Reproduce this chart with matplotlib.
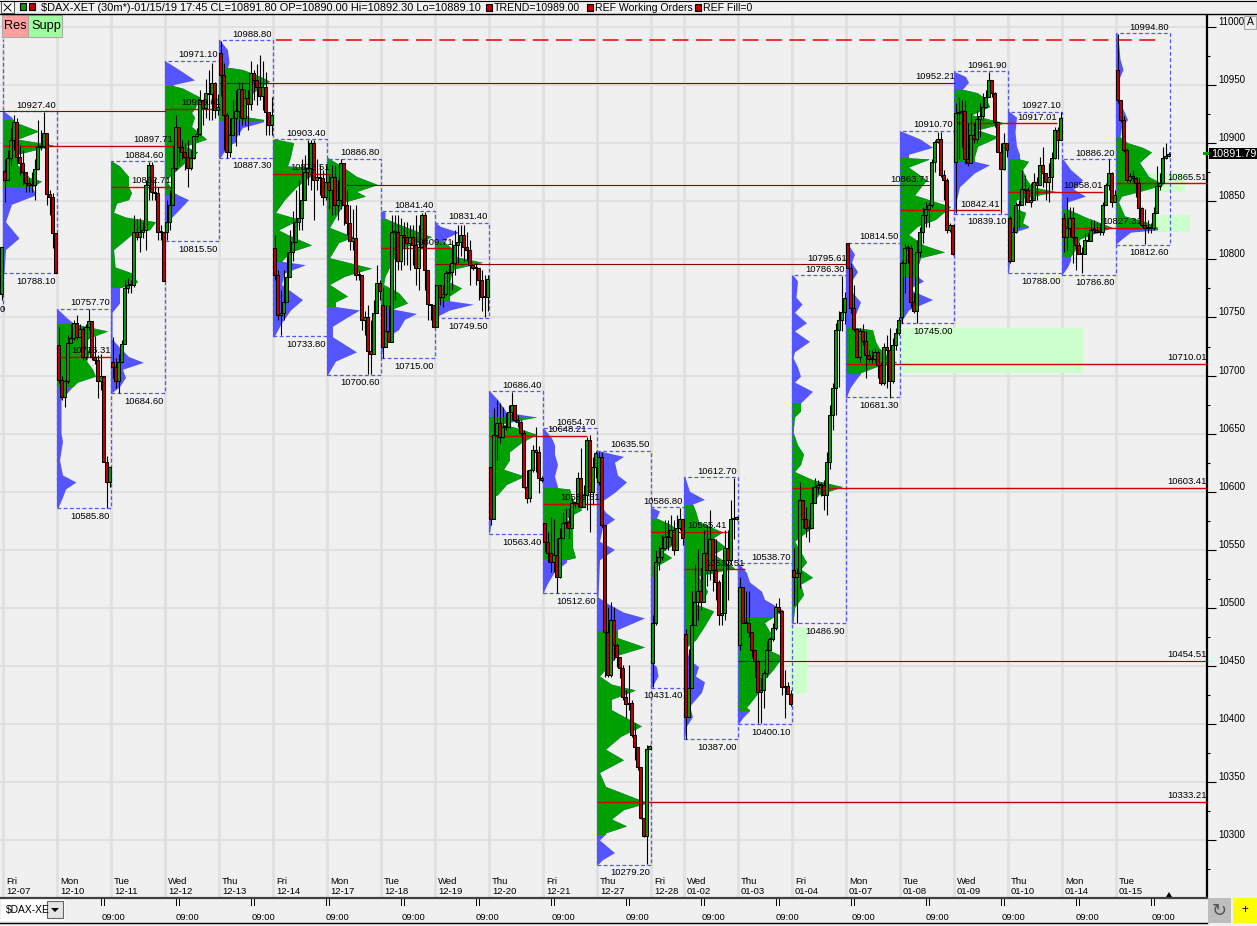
import numpy as np
import matplotlib
matplotlib.use("Agg")
import matplotlib.pyplot as plt
from matplotlib.patches import Rectangle, Polygon

plt.rcParams["font.family"] = ["Liberation Sans", "DejaVu Sans"]

GREEN = "#00a000"
RED = "#c00000"
BLUE = "#5555ff"
BG = "#f0f0f0"
GRID = "#e0e0e0"
LIGHT = "#ccffcc"

day_names = ["Fri", "Mon", "Tue", "Wed", "Thu", "Fri", "Mon", "Tue", "Wed", "Thu", "Fri",
             "Thu", "Fri", "Wed", "Thu", "Fri", "Mon", "Tue", "Wed", "Thu", "Mon", "Tue"]
day_dates = ["12-07", "12-10", "12-11", "12-12", "12-13", "12-14", "12-17", "12-18", "12-19", "12-20", "12-21",
             "12-27", "12-28", "01-02", "01-03", "01-04", "01-07", "01-08", "01-09", "01-10", "01-14", "01-15"]
# 30 minute bars per session, 12-28 was a short one
day_bars = [18] * 12 + [11] + [18] * 9

day_high = [10927.40, 10757.70, 10884.60, 10971.10, 10988.80, 10903.40, 10886.80, 10841.40, 10831.40, 10686.40, 10654.70,
            10635.50, 10586.80, 10612.70, 10538.70, 10786.30, 10814.50, 10910.70, 10961.90, 10927.10, 10886.20, 10994.80]
day_low = [10788.10, 10585.80, 10684.60, 10815.50, 10887.30, 10733.80, 10700.60, 10715.00, 10749.50, 10563.40, 10512.60,
           10279.20, 10431.40, 10387.00, 10400.10, 10486.90, 10681.30, 10745.00, 10839.10, 10788.00, 10786.80, 10812.60]

first_open = [10876, 10726, 10712, 10824, 10978, 10810, 10867, 10761, 10742, 10621, 10573,
              10608, 10453, 10478, 10468, 10533, 10814, 10750, 10884, 10836, 10836, 10963]

closes = [
    [10868, 10887, 10903, 10918, 10888, 10883, 10875, 10866, 10864, 10864, 10878, 10897, 10898, 10909, 10856, 10854, 10823, 10788],
    [10696, 10682, 10695, 10728, 10732, 10745, 10733, 10740, 10716, 10742, 10747, 10716, 10713, 10695, 10700, 10626, 10608, 10621],
    [10707, 10695, 10712, 10727, 10775, 10778, 10778, 10824, 10819, 10824, 10825, 10864, 10881, 10858, 10857, 10824, 10824, 10781],
    [10832, 10847, 10879, 10914, 10897, 10892, 10888, 10879, 10887, 10906, 10908, 10937, 10930, 10943, 10942, 10952, 10929, 10931],
    [10959, 10924, 10892, 10907, 10922, 10928, 10947, 10922, 10939, 10934, 10960, 10954, 10948, 10941, 10948, 10927, 10916, 10924],
    [10787, 10752, 10754, 10763, 10785, 10806, 10815, 10832, 10836, 10851, 10875, 10879, 10900, 10868, 10871, 10870, 10854, 10867],
    [10860, 10871, 10847, 10851, 10883, 10847, 10831, 10816, 10818, 10787, 10787, 10748, 10750, 10721, 10719, 10754, 10780, 10773],
    [10725, 10738, 10729, 10824, 10824, 10799, 10821, 10819, 10814, 10819, 10812, 10793, 10811, 10838, 10791, 10762, 10761, 10742],
    [10778, 10768, 10770, 10788, 10789, 10797, 10812, 10815, 10821, 10811, 10808, 10795, 10793, 10793, 10782, 10768, 10768, 10783],
    [10577, 10649, 10659, 10647, 10656, 10656, 10669, 10675, 10662, 10660, 10651, 10604, 10595, 10619, 10636, 10634, 10612, 10610],
    [10557, 10547, 10540, 10546, 10527, 10560, 10573, 10574, 10569, 10590, 10590, 10612, 10587, 10597, 10645, 10600, 10621, 10633],
    [10630, 10571, 10479, 10442, 10490, 10468, 10458, 10448, 10423, 10417, 10418, 10391, 10380, 10363, 10319, 10304, 10379, 10381],
    [10487, 10540, 10544, 10552, 10561, 10561, 10567, 10550, 10569, 10577, 10560],
    [10406, 10431, 10485, 10505, 10515, 10505, 10547, 10533, 10559, 10533, 10522, 10494, 10496, 10552, 10541, 10577, 10577, 10578],
    [10518, 10487, 10487, 10479, 10464, 10454, 10428, 10429, 10444, 10464, 10473, 10483, 10501, 10497, 10432, 10433, 10426, 10417],
    [10527, 10530, 10593, 10577, 10569, 10569, 10590, 10604, 10606, 10606, 10597, 10626, 10666, 10689, 10739, 10748, 10755, 10767],
    [10793, 10758, 10740, 10716, 10738, 10730, 10718, 10714, 10714, 10720, 10709, 10694, 10725, 10722, 10695, 10726, 10737, 10748],
    [10797, 10810, 10810, 10763, 10756, 10806, 10824, 10838, 10843, 10847, 10884, 10901, 10904, 10873, 10868, 10825, 10830, 10805],
    [10926, 10927, 10928, 10886, 10883, 10907, 10904, 10921, 10923, 10931, 10940, 10954, 10943, 10918, 10892, 10878, 10900, 10894],
    [10799, 10824, 10847, 10847, 10861, 10860, 10849, 10851, 10867, 10864, 10881, 10874, 10867, 10871, 10887, 10911, 10903, 10922],
    [10819, 10827, 10836, 10819, 10812, 10805, 10805, 10817, 10816, 10825, 10825, 10824, 10824, 10847, 10864, 10874, 10849, 10855],
    [10937, 10920, 10894, 10868, 10872, 10870, 10866, 10844, 10830, 10827, 10827, 10827, 10840, 10863, 10866, 10887, 10889, 10891],
]
highs = [
    [10886, 10894, 10913, 10924, 10922, 10898, 10894, 10875, 10870, 10875, 10886, 10920, 10911, 10927, 10909, 10860, 10857, 10816],
    [10742, 10700, 10696, 10735, 10744, 10748, 10752, 10744, 10742, 10744, 10757, 10747, 10734, 10718, 10719, 10700, 10631, 10621],
    [10733, 10715, 10719, 10731, 10782, 10784, 10782, 10838, 10835, 10836, 10832, 10868, 10884, 10884, 10870, 10862, 10830, 10824],
    [10851, 10860, 10898, 10924, 10914, 10903, 10900, 10903, 10894, 10906, 10913, 10946, 10933, 10955, 10963, 10969, 10953, 10942],
    [10988, 10969, 10927, 10922, 10937, 10946, 10953, 10953, 10947, 10946, 10971, 10963, 10968, 10976, 10971, 10961, 10927, 10940],
    [10821, 10791, 10774, 10791, 10806, 10825, 10842, 10860, 10868, 10886, 10890, 10903, 10903, 10903, 10886, 10881, 10877, 10881],
    [10873, 10881, 10881, 10868, 10886, 10881, 10860, 10847, 10843, 10847, 10791, 10782, 10756, 10761, 10748, 10765, 10795, 10782],
    [10776, 10761, 10761, 10838, 10838, 10838, 10836, 10832, 10832, 10830, 10830, 10838, 10830, 10840, 10841, 10782, 10761, 10761],
    [10778, 10778, 10778, 10791, 10795, 10817, 10825, 10830, 10830, 10830, 10824, 10817, 10795, 10797, 10791, 10791, 10787, 10787],
    [10621, 10672, 10679, 10676, 10673, 10668, 10675, 10686, 10675, 10666, 10662, 10653, 10619, 10620, 10640, 10656, 10639, 10614],
    [10573, 10565, 10578, 10577, 10560, 10569, 10583, 10586, 10586, 10595, 10591, 10617, 10638, 10606, 10647, 10649, 10630, 10635],
    [10634, 10634, 10570, 10501, 10505, 10501, 10470, 10458, 10451, 10429, 10451, 10421, 10401, 10380, 10363, 10319, 10382, 10382],
    [10494, 10550, 10554, 10563, 10576, 10576, 10580, 10576, 10580, 10586, 10577],
    [10482, 10465, 10515, 10538, 10551, 10534, 10567, 10571, 10584, 10559, 10559, 10524, 10529, 10567, 10567, 10593, 10612, 10579],
    [10527, 10517, 10515, 10515, 10479, 10464, 10455, 10440, 10447, 10472, 10475, 10487, 10504, 10509, 10498, 10447, 10436, 10429],
    [10552, 10534, 10608, 10593, 10587, 10577, 10604, 10612, 10610, 10608, 10610, 10634, 10675, 10694, 10745, 10756, 10786, 10772],
    [10814, 10797, 10778, 10741, 10741, 10744, 10738, 10722, 10722, 10724, 10722, 10712, 10728, 10735, 10741, 10732, 10741, 10750],
    [10799, 10814, 10812, 10812, 10771, 10817, 10828, 10845, 10849, 10849, 10886, 10903, 10910, 10910, 10877, 10870, 10831, 10830],
    [10935, 10940, 10937, 10937, 10917, 10926, 10917, 10929, 10935, 10943, 10946, 10961, 10954, 10944, 10917, 10900, 10909, 10900],
    [10837, 10828, 10849, 10851, 10877, 10873, 10862, 10866, 10874, 10871, 10888, 10897, 10874, 10883, 10892, 10914, 10914, 10927],
    [10840, 10854, 10845, 10845, 10818, 10815, 10811, 10823, 10823, 10834, 10834, 10832, 10831, 10849, 10866, 10886, 10875, 10860],
    [10994, 10937, 10923, 10896, 10874, 10877, 10871, 10871, 10845, 10843, 10834, 10831, 10845, 10880, 10874, 10897, 10900, 10892],
]
lows = [
    [10849, 10873, 10881, 10894, 10883, 10873, 10864, 10858, 10858, 10858, 10851, 10877, 10894, 10896, 10847, 10838, 10810, 10788],
    [10694, 10679, 10673, 10694, 10728, 10731, 10731, 10733, 10713, 10714, 10739, 10713, 10710, 10681, 10688, 10626, 10586, 10604],
    [10698, 10689, 10685, 10713, 10728, 10771, 10771, 10776, 10817, 10806, 10818, 10808, 10851, 10851, 10851, 10817, 10817, 10781],
    [10817, 10825, 10847, 10877, 10881, 10886, 10877, 10862, 10877, 10886, 10903, 10907, 10916, 10922, 10920, 10920, 10922, 10924],
    [10941, 10894, 10887, 10888, 10907, 10898, 10907, 10916, 10916, 10911, 10929, 10937, 10933, 10937, 10929, 10907, 10907, 10907],
    [10782, 10748, 10735, 10748, 10765, 10787, 10799, 10817, 10825, 10825, 10860, 10864, 10860, 10834, 10860, 10855, 10847, 10851],
    [10843, 10838, 10838, 10834, 10843, 10830, 10821, 10808, 10808, 10782, 10782, 10739, 10735, 10701, 10701, 10722, 10765, 10765],
    [10715, 10731, 10735, 10748, 10765, 10791, 10791, 10795, 10795, 10791, 10795, 10778, 10774, 10812, 10774, 10748, 10748, 10742],
    [10752, 10761, 10759, 10769, 10769, 10774, 10787, 10797, 10803, 10799, 10799, 10778, 10791, 10778, 10765, 10756, 10750, 10756],
    [10571, 10577, 10627, 10642, 10646, 10653, 10656, 10662, 10660, 10656, 10649, 10603, 10590, 10591, 10617, 10617, 10599, 10608],
    [10548, 10540, 10531, 10531, 10513, 10526, 10565, 10569, 10560, 10570, 10586, 10587, 10586, 10587, 10584, 10565, 10589, 10612],
    [10606, 10570, 10441, 10441, 10441, 10455, 10449, 10440, 10421, 10405, 10412, 10389, 10369, 10361, 10318, 10303, 10280, 10380],
    [10432, 10485, 10533, 10541, 10550, 10550, 10554, 10546, 10554, 10567, 10554],
    [10387, 10417, 10468, 10485, 10490, 10498, 10515, 10519, 10524, 10515, 10507, 10485, 10485, 10490, 10507, 10537, 10559, 10576],
    [10464, 10487, 10487, 10475, 10458, 10441, 10401, 10401, 10414, 10441, 10464, 10472, 10481, 10496, 10425, 10405, 10427, 10416],
    [10503, 10487, 10517, 10569, 10561, 10557, 10573, 10596, 10599, 10596, 10584, 10580, 10620, 10653, 10666, 10690, 10738, 10744],
    [10793, 10754, 10738, 10715, 10712, 10726, 10698, 10712, 10711, 10712, 10698, 10692, 10692, 10689, 10681, 10694, 10722, 10735],
    [10745, 10771, 10797, 10759, 10754, 10745, 10802, 10814, 10828, 10828, 10845, 10875, 10900, 10871, 10851, 10823, 10824, 10804],
    [10840, 10886, 10897, 10883, 10880, 10883, 10900, 10900, 10905, 10920, 10933, 10940, 10940, 10914, 10892, 10840, 10877, 10888],
    [10797, 10805, 10823, 10828, 10847, 10847, 10849, 10845, 10851, 10851, 10866, 10862, 10851, 10849, 10860, 10886, 10886, 10903],
    [10806, 10808, 10819, 10797, 10791, 10806, 10788, 10810, 10817, 10817, 10823, 10823, 10821, 10821, 10847, 10860, 10845, 10849],
    [10935, 10918, 10892, 10867, 10867, 10867, 10854, 10836, 10828, 10813, 10823, 10823, 10825, 10849, 10860, 10866, 10886, 10888],
]

# volume profile: price levels and width of the profile in bars
profile_prices = [
    [10927, 10922, 10918, 10910, 10903, 10898, 10890, 10881, 10870, 10867, 10862, 10855, 10847, 10832, 10818, 10808, 10788],
    [10757, 10748, 10744, 10738, 10732, 10728, 10720, 10712, 10705, 10699, 10694, 10689, 10679, 10650, 10643, 10627, 10614, 10608, 10602, 10595, 10586],
    [10884, 10880, 10871, 10862, 10857, 10851, 10848, 10840, 10836, 10832, 10825, 10823, 10808, 10793, 10788, 10780, 10775, 10762, 10754, 10731, 10724, 10716, 10711, 10705, 10698, 10690, 10685],
    [10970, 10961, 10954, 10950, 10949, 10947, 10939, 10929, 10926, 10922, 10914, 10903, 10897, 10892, 10881, 10874, 10868, 10857, 10851, 10840, 10832, 10825, 10815],
    [10988, 10980, 10969, 10965, 10963, 10957, 10953, 10948, 10940, 10929, 10922, 10920, 10918, 10913, 10905, 10901, 10897, 10887],
    [10903, 10900, 10888, 10880, 10879, 10874, 10862, 10851, 10840, 10834, 10825, 10821, 10812, 10806, 10798, 10795, 10788, 10778, 10765, 10756, 10745, 10733],
    [10887, 10880, 10871, 10864, 10858, 10854, 10849, 10836, 10827, 10819, 10814, 10801, 10792, 10785, 10778, 10768, 10763, 10759, 10756, 10750, 10742, 10733, 10720, 10712, 10701],
    [10841, 10835, 10831, 10825, 10819, 10808, 10793, 10785, 10778, 10771, 10762, 10757, 10753, 10748, 10739, 10731, 10715],
    [10831, 10828, 10823, 10818, 10815, 10811, 10802, 10797, 10791, 10780, 10775, 10768, 10764, 10761, 10756, 10750],
    [10686, 10679, 10668, 10664, 10658, 10655, 10649, 10642, 10634, 10627, 10619, 10613, 10606, 10597, 10596, 10593, 10564],
    [10654, 10646, 10640, 10632, 10623, 10613, 10604, 10603, 10602, 10593, 10584, 10577, 10570, 10563, 10552, 10543, 10541, 10539, 10531, 10520, 10513],
    [10635, 10630, 10625, 10614, 10608, 10599, 10590, 10582, 10576, 10569, 10557, 10550, 10541, 10509, 10503, 10496, 10491, 10481, 10479, 10474, 10466, 10459, 10453, 10441, 10434, 10429, 10421, 10412, 10398, 10389, 10378, 10369, 10358, 10346, 10337, 10332, 10326, 10318, 10312, 10306, 10305, 10300, 10289, 10283, 10279],
    [10586, 10583, 10577, 10571, 10565, 10557, 10548, 10543, 10537, 10535, 10527, 10522, 10490, 10484, 10453, 10449, 10441, 10431],
    [10612, 10600, 10593, 10589, 10583, 10574, 10565, 10560, 10552, 10546, 10534, 10527, 10514, 10509, 10504, 10497, 10484, 10472, 10466, 10464, 10455, 10449, 10441, 10436, 10427, 10415, 10406, 10398, 10387],
    [10538, 10530, 10522, 10514, 10507, 10498, 10492, 10487, 10478, 10464, 10458, 10447, 10438, 10427, 10414, 10412, 10411, 10406, 10400],
    [10786, 10781, 10767, 10761, 10754, 10745, 10738, 10729, 10720, 10715, 10707, 10699, 10694, 10686, 10681, 10676, 10669, 10664, 10651, 10640, 10632, 10623, 10617, 10610, 10604, 10597, 10586, 10569, 10557, 10539, 10533, 10526, 10520, 10511, 10500, 10487],
    [10814, 10804, 10797, 10789, 10781, 10772, 10763, 10750, 10741, 10739, 10729, 10724, 10716, 10711, 10707, 10702, 10701, 10698, 10689, 10681],
    [10910, 10903, 10896, 10890, 10887, 10886, 10879, 10868, 10855, 10845, 10834, 10828, 10821, 10812, 10806, 10801, 10793, 10785, 10781, 10774, 10765, 10756, 10745],
    [10961, 10957, 10952, 10946, 10943, 10937, 10931, 10924, 10917, 10911, 10905, 10897, 10888, 10884, 10881, 10874, 10862, 10851, 10839],
    [10927, 10922, 10909, 10897, 10890, 10886, 10884, 10877, 10870, 10862, 10858, 10851, 10844, 10840, 10831, 10828, 10827, 10823, 10805, 10788],
    [10886, 10877, 10868, 10860, 10854, 10849, 10843, 10836, 10831, 10827, 10823, 10817, 10810, 10802, 10799, 10793, 10787],
    [10994, 10986, 10972, 10963, 10954, 10937, 10926, 10920, 10913, 10905, 10900, 10896, 10892, 10883, 10871, 10864, 10858, 10854, 10849, 10843, 10837, 10832, 10827, 10825, 10823, 10817, 10813],
]
profile_widths = [
    [0.5, 3, 4, 12, 5, 17, 5, 5, 9, 13, 10, 11, 3, 1, 5.5, 1, 0.5],
    [0.3, 4, 6, 17, 11, 9, 11, 10, 12, 13, 7, 5, 1.5, 1.5, 2, 1, 2, 6.5, 3, 2, 0.5],
    [0.5, 3, 6, 6, 7, 6, 2, 1, 5, 15, 13, 8, 1, 1.5, 7, 9, 3, 3, 0.5, 0.5, 3, 6, 11, 4, 5, 3, 0.5],
    [0.5, 6, 10, 3, 3, 6, 12, 10, 9, 10, 9, 14, 7, 11, 6, 3, 0.5, 3, 8, 4, 1, 0.3, 0.3],
    [0.5, 3, 3.5, 3, 8, 14, 17, 14, 10, 7, 10, 15, 15, 8, 6, 6, 3, 0.5],
    [1, 7, 6, 5, 12, 14, 8, 4, 1, 9, 2, 5, 13, 6, 3, 11, 4, 3, 10, 6, 3, 0.5],
    [0.5, 5, 10, 17, 10, 13, 6, 3, 1, 9, 4, 1, 15, 6, 1, 7, 3, 3, 11, 7, 2, 2, 10, 3, 0.5],
    [1.5, 1.5, 5, 11, 17, 6, 3, 1.5, 1, 6, 9, 4, 12, 8, 6, 1, 0.3],
    [0.5, 2, 8, 4, 3, 5, 7, 16, 6, 5, 9, 5, 5, 13, 5, 0.5],
    [0.5, 3, 6, 16, 4, 9, 16, 11, 7, 7, 5, 12, 6, 3, 2, 2, 0.3],
    [0.5, 3, 4, 4, 5, 4, 5, 5, 9, 10, 13, 8, 10, 10, 10, 11, 8, 8, 4, 1.5, 0.3],
    [0.5, 9, 6, 7, 10, 6, 1, 3, 6, 2, 1, 6, 1, 0.5, 4, 9, 16, 7, 7, 7, 16, 7, 5, 1, 5, 13, 5, 5, 15, 8, 3, 9, 1, 3, 12, 17, 9, 5, 10, 3, 3, 1, 6, 2, 0.5],
    [0.5, 3, 2, 7, 9, 9, 4, 7, 3, 1, 1, 1.5, 1.5, 0.3, 0.3, 2, 2.5, 0.3],
    [0.5, 2, 7, 3, 4, 5, 13, 10, 14, 10, 17, 5, 8, 7, 3, 10, 7, 4, 1, 1, 2, 5, 4, 7, 6, 2, 3, 1, 0.3],
    [0.5, 3, 4, 8, 9, 15, 12, 9, 11, 10, 15, 12, 9, 7, 3, 4, 4, 2, 0.3],
    [0.5, 2, 1.5, 3.5, 1, 5, 1, 6, 1, 0.5, 2, 3, 1, 7, 5, 3, 3, 1, 0.5, 2, 4, 3, 1, 7, 17, 9, 6, 7, 1, 5, 3, 7, 3, 4, 1, 0.5],
    [0.5, 3, 2, 4, 2, 2, 5, 3, 3, 9, 10, 11, 14, 17, 10, 5, 5, 4, 1.5, 0.3],
    [0.5, 7, 11, 3, 3, 10, 3, 9, 5, 17, 12, 6, 3, 8, 15, 7, 6, 6, 8, 3, 11, 3, 0.3],
    [0.5, 4, 5, 3, 8, 11, 12, 6, 17, 8, 15, 8, 7, 7, 12, 7, 2, 1, 0.3],
    [0.5, 3, 2.5, 3, 4, 4, 7, 5, 6, 8, 16, 3, 2, 6, 5, 7, 7, 2, 1, 0.3],
    [0.5, 3, 7, 4, 8, 2, 2, 8, 13, 17, 12, 6, 5, 3, 3, 2, 0.3],
    [0.5, 1, 1.5, 2.5, 1, 1, 3, 4, 2, 1.5, 4, 9, 12, 8, 11, 16, 8, 2, 1, 2, 3, 10, 14, 14, 5, 2, 0.3],
]
value_area_high = [10920, 10744, 10884, 10949, 10965, 10903, 10887, 10835, 10815, 10664, 10603, 10480, 10577, 10589, 10492, 10676, 10741, 10887, 10946, 10886, 10843, 10905]
value_area_low = [10862, 10690, 10775, 10855, 10919, 10798, 10759, 10757, 10764, 10596, 10541, 10305, 10527, 10464, 10411, 10487, 10701, 10785, 10884, 10828, 10802, 10825]

# point of control of each day and the bar where its line stops
poc_price = [10897.71, 10716.31, 10862.71, 10929.61, 10952.21, 10873.51, 10863.71, 10809.71, 10795.61, 10648.21, 10589.51,
             10333.21, 10565.41, 10533.51, 10454.51, 10603.41, 10710.01, 10842.41, 10917.01, 10858.01, 10827.31, 10865.51]
poc_end_bar = [56.7, 36, 56, 72.7, 317.3, 109, 309, 150, 281.3, 194.7, 199,
               401.3, 241.3, 247.3, 401.3, 401.3, 401.3, 332.3, 351.3, 366.7, 379.7, 401.3]
poc_dark = [False, False, False, False, True, False, True, False, True, False, False,
            False, False, False, True, False, False, False, False, False, False, False]

# supply / demand zones: first bar, last bar, top price, bottom price
zone_first = [299, 381.3, 383.3, 262.3]
zone_last = [360, 394, 395.7, 268]
zone_top = [10741, 10874, 10838, 10484]
zone_bottom = [10702, 10858, 10824, 10426]

time_labels = ["09:00"] * 15
price_ticks = list(range(10300, 11001, 50))

PX_W, PX_H = 1257, 926
AX_L, AX_R, AX_T, AX_B = 0, 1207, 14, 897
P_TOP = 11000 + (27 - AX_T) * 0.8606
P_BOT = 11000 - (AX_B - 27) * 0.8606
X_LEFT, X_RIGHT = -1, (AX_R - 3) / 3

fig = plt.figure(figsize=(PX_W / 100, PX_H / 100), dpi=100, facecolor=BG)
ax = fig.add_axes([AX_L / PX_W, 1 - AX_B / PX_H, (AX_R - AX_L) / PX_W, (AX_B - AX_T) / PX_H], facecolor=BG)
ax.set_xlim(X_LEFT, X_RIGHT)
ax.set_ylim(P_BOT, P_TOP)

starts = np.concatenate([[0], np.cumsum(day_bars)[:-1]])

for s in starts:
    ax.axvline(s, color=GRID, lw=2, zorder=1)
for p in price_ticks:
    ax.axhline(p, color=GRID, lw=1.4, zorder=1)

for x0, x1, top, bot in zip(zone_first, zone_last, zone_top, zone_bottom):
    ax.add_patch(Rectangle((x0, bot), x1 - x0, top - bot, fc=LIGHT, ec="none", zorder=1.5))

# profiles, blue outside the value area and green inside
for i, s in enumerate(starts):
    pp = np.array(profile_prices[i], float)
    ww = np.array(profile_widths[i], float)
    verts = np.column_stack([np.r_[s, s + ww, s], np.r_[pp[0], pp, pp[-1]]])
    blue = Polygon(verts, closed=True, fc=BLUE, ec="none", zorder=2)
    ax.add_patch(blue)
    green = Polygon(verts, closed=True, fc=GREEN, ec="none", zorder=2.1)
    ax.add_patch(green)
    green.set_clip_path(Rectangle((s, value_area_low[i]), 40, value_area_high[i] - value_area_low[i], transform=ax.transData))

# session boxes with high / low
for i, s in enumerate(starts):
    e = s + day_bars[i]
    ax.add_patch(Rectangle((s, day_low[i]), day_bars[i], day_high[i] - day_low[i], fc="none", ec=BLUE,
                           lw=0.9, ls=(0, (3, 2)), zorder=3))
    ax.annotate(f"{day_high[i]:.2f}", (e, day_high[i]), xytext=(-1, 6), textcoords="offset pixels",
                ha="right", va="center", fontsize=6.8, zorder=6)
    ax.annotate(f"{day_low[i]:.2f}", (e, day_low[i]), xytext=(-1, -8), textcoords="offset pixels",
                ha="right", va="center", fontsize=6.8, zorder=6)

ax.plot([X_LEFT, 54], [day_high[0], day_high[0]], color="#900000", lw=0.8, zorder=3)
for i, s in enumerate(starts):
    c = "#900000" if poc_dark[i] else "#d00000"
    lw = 0.8 if poc_dark[i] else 1.0
    ax.plot([s, poc_end_bar[i]], [poc_price[i], poc_price[i]], color=c, lw=lw, zorder=3.2, solid_capstyle="butt")
    ax.annotate(f"{poc_price[i]:.2f}", (poc_end_bar[i], poc_price[i]), xytext=(0, 6), textcoords="offset pixels",
                ha="right", va="center", fontsize=6.8, zorder=6)
ax.plot([91, 385], [day_high[4], day_high[4]], color="#ee1111", lw=1.2, ls=(0, (9.5, 4.5)), zorder=3.3)

# previous session, only its edge shows
ax.plot([0, 0], [10756.5, 10990], color=BLUE, lw=0.9, ls=(0, (3, 2)), zorder=3)
prev_bar_open, prev_bar_close, prev_bar_low, prev_bar_x = 10770, 10811, 10765, -0.5

# candles
xs, ops, cls_, his, los = [prev_bar_x], [prev_bar_open], [prev_bar_close], [prev_bar_close], [prev_bar_low]
for i, s in enumerate(starts):
    prev = first_open[i]
    for k in range(day_bars[i]):
        xs.append(s + k + 0.5)
        ops.append(prev)
        cls_.append(closes[i][k])
        his.append(highs[i][k])
        los.append(lows[i][k])
        prev = closes[i][k]
xs, ops, cls_ = np.array(xs), np.array(ops, float), np.array(cls_, float)
his, los = np.array(his, float), np.array(los, float)
ax.vlines(xs, los, his, color="black", lw=0.8, zorder=4)
bottoms = np.minimum(ops, cls_)
heights = np.maximum(np.abs(ops - cls_), 0.8)
colors = [GREEN if c >= o else RED for o, c in zip(ops, cls_)]
ax.bar(xs, heights, 0.85, bottoms, color=colors, edgecolor="black", linewidth=0.75, zorder=4.5)

# axis
for sp in ["left", "top", "bottom"]:
    ax.spines[sp].set_visible(False)
ax.spines["right"].set_linewidth(1.6)
ax.yaxis.tick_right()
ax.set_yticks(price_ticks)
ax.set_yticks([p + 25 for p in price_ticks[:-1]] + [10275], minor=True)
ax.set_xticks([])
ax.tick_params(axis="y", which="major", length=6.5, width=0.8, pad=1.5, labelsize=7)
ax.tick_params(axis="y", which="minor", length=2.2, width=0.8)
for t in ax.get_yticklabels():
    t.set_verticalalignment("bottom")

tr = ax.get_xaxis_transform()
for s, n, d in zip(starts, day_names, day_dates):
    ax.text(s + 1, (AX_B - 881) / (AX_B - AX_T), n, transform=tr, fontsize=6.8, va="center", zorder=7)
    ax.text(s + 1, (AX_B - 892) / (AX_B - AX_T), d, transform=tr, fontsize=6.8, va="center", zorder=7)

# window chrome in pixel coordinates
ov = fig.add_axes([0, 0, 1, 1], facecolor="none", zorder=10)
ov.set_xlim(0, PX_W)
ov.set_ylim(PX_H, 0)
ov.axis("off")

def box(x0, y0, x1, y1, fc, ec="none", lw=0.8):
    ov.add_patch(Rectangle((x0, y0), x1 - x0, y1 - y0, fc=fc, ec=ec, lw=lw))

def label(x, y, s, fs=7.0, **kw):
    ov.text(x, y, s, fontsize=fs, va="center", **kw)

box(0, 0, PX_W, 14, BG)
ov.plot([0, PX_W], [0.5, 0.5], color="black", lw=0.8)
ov.plot([0, PX_W], [14, 14], color="black", lw=1.0)
box(1, 1, 14, 13, "white", "#555555")
ov.plot([4, 11], [4, 11], color="black", lw=0.7)
ov.plot([4, 11], [11, 4], color="black", lw=0.7)
box(20, 3, 26, 10, GREEN, "black")
box(29, 3, 35, 10, RED, "black")
label(41, 8, "$DAX-XET (30m*)-01/15/19 17:45 CL=10891.80 OP=10890.00 Hi=10892.30 Lo=10889.10", 7.9)
box(486, 4, 492, 11, RED, "black")
label(494, 8, "TREND=10989.00", 7.6)
box(587, 4, 593, 11, RED, "black")
label(595, 8, "REF Working Orders", 7.6)
box(695, 4, 701, 11, RED, "black")
label(703, 8, "REF Fill=0", 7.6)

box(2, 15, 28, 37, "#ff9f9f", "#aaaaaa")
box(28, 15, 62, 37, "#9fff9f", "#aaaaaa")
label(4, 26, "Res", 9.2)
label(31, 26, "Supp", 9.2)

label(0, 310, "0", 6.8)

box(1209, 148, PX_W, 159, "black")
label(1211, 154, "10891.79", 7.8, color="white")
box(1203, 152, 1209, 155, GREEN)
box(1244, 16, 1256, 29, BG, "#aaaaaa")
label(1247, 22, "A", 7.5)

box(0, 897, PX_W, 926, BG)
ov.plot([0, 1207], [898, 898], color="#404040", lw=1.6)
ov.plot([0, 1207], [923, 923], color="black", lw=1.0)
for k, t in enumerate(time_labels):
    ov.plot([101 + 75 * k] * 2, [899, 905], color="black", lw=0.7)
    ov.plot([103.5 + 75 * k] * 2, [899, 905], color="black", lw=0.7)
    ov.text(113 + 75 * k, 917, t, fontsize=6.8, ha="center", va="center")
box(1, 899, 65, 921, "white")
label(6, 910, "$DAX-XE", 7.4)
box(47, 901, 63, 918, "#e4e4e4", "#666666")
ov.add_patch(Polygon([[51, 908], [59, 908], [55, 912]], fc="black", ec="none"))
box(1208, 898, 1231, 923, "#bdbdbd")
ov.text(1219, 911, "\u21bb", fontsize=13, ha="center", va="center", color="#555555", family="DejaVu Sans")
box(1233, 898, PX_W, 923, "#ffff00")
ov.text(1245, 910, "+", fontsize=8.5, ha="center", va="center")
ov.add_patch(Polygon([[1166, 897], [1172, 897], [1169, 892]], fc="black", ec="none"))

fig.savefig("out.png", dpi=100, facecolor=BG)
